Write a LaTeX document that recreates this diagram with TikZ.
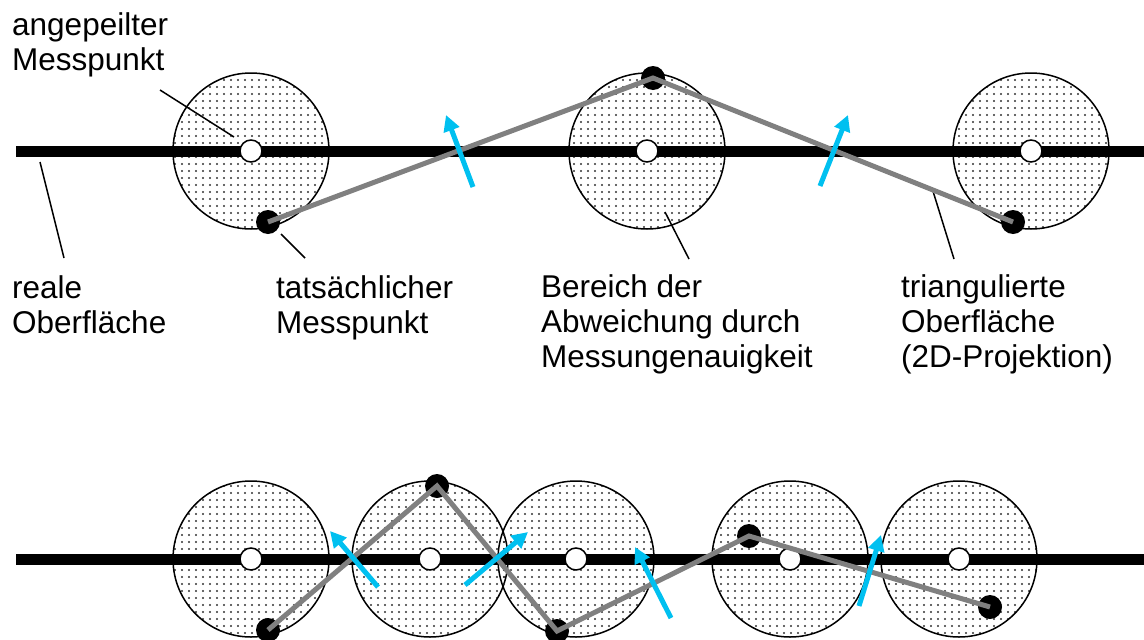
\documentclass[tikz,border=0pt]{standalone}
\usepackage{fontspec}
\setmainfont{Liberation Sans}
\usetikzlibrary{arrows.meta,patterns}

% fine dot raster for the deviation zones
\pgfdeclarepatternformonly{messdots}{\pgfqpoint{-1.5pt}{-1.5pt}}{\pgfqpoint{1.5pt}{1.5pt}}{\pgfqpoint{7pt}{7pt}}{%
  \pgfpathcircle{\pgfqpoint{0pt}{0pt}}{1.05pt}\pgfusepath{fill}}

\definecolor{normalblue}{RGB}{0,192,240}

\tikzset{
  surface/.style={line width=11pt},
  zone/.style={circle,draw,line width=1.5pt,minimum size=156pt,inner sep=0pt,
    pattern=messdots,pattern color=black!80},
  aim/.style={circle,draw,line width=1.5pt,fill=white,minimum size=22pt,inner sep=0pt},
  hit/.style={circle,fill=black,minimum size=24pt,inner sep=0pt},
  tri/.style={line width=5pt,draw=black!50},
  normalvec/.style={line width=5pt,draw=normalblue,-{Triangle[length=16pt,width=16pt]}},
  pointer/.style={line width=1.5pt},
  % anchored at the baseline of the last line
  caption/.style={anchor=base west,align=left,inner sep=0pt,
    font=\fontsize{31.5pt}{35pt}\selectfont}
}

\begin{document}
\begin{tikzpicture}[x=1pt,y=-1pt]
  \useasboundingbox (0,0) rectangle (1144,640);

  % --- upper row: sparse measurement ---
  \node[zone] (z1) at (251,151) {};
  \node[zone] (z2) at (647,151) {};
  \node[zone] (z3) at (1031,151) {};

  \coordinate (s1) at (16,151);
  \coordinate (s2) at (1144,151);
  \draw[surface] (s1) -- (s2);

  \node[aim] (a1) at (251,151) {};
  \node[aim] (a2) at (647,151) {};
  \node[aim] (a3) at (1031,151) {};

  % leader lines
  \coordinate (p1a) at (160,90);  \coordinate (p1b) at (234,137);
  \coordinate (p2a) at (40,162);  \coordinate (p2b) at (64,258);
  \coordinate (p3a) at (281,234); \coordinate (p3b) at (305,258);
  \coordinate (p4a) at (665,212); \coordinate (p4b) at (689,259);
  \coordinate (p5a) at (932,188); \coordinate (p5b) at (954,259);
  \draw[pointer] (p1a) -- (p1b);
  \draw[pointer] (p2a) -- (p2b);
  \draw[pointer] (p3a) -- (p3b);
  \draw[pointer] (p4a) -- (p4b);
  \draw[pointer] (p5a) -- (p5b);

  \node[hit] (t1) at (268,222) {};
  \node[hit] (t2) at (653,78) {};
  \node[hit] (t3) at (1013,222) {};
  \draw[tri] (t1.center) -- (t2.center) -- (t3.center);

  % face normals
  \coordinate (n1a) at (473,187); \coordinate (n1b) at (446,115);
  \coordinate (n2a) at (820,186); \coordinate (n2b) at (848,115);
  \draw[normalvec] (n1a) -- (n1b);
  \draw[normalvec] (n2a) -- (n2b);

  \node[caption] (l1) at (12,70) {angepeilter\\Messpunkt};
  \node[caption] (l2) at (12,333) {reale\\Oberfläche};
  \node[caption] (l3) at (276,333) {tatsächlicher\\Messpunkt};
  \node[caption] (l4) at (541,367) {Bereich der\\Abweichung durch\\Messungenauigkeit};
  \node[caption] (l5) at (901,367) {triangulierte\\Oberfläche\\(2D-Projektion)};

  % --- lower row: dense measurement ---
  \node[zone] (y1) at (251,559) {};
  \node[zone] (y2) at (430,559) {};
  \node[zone] (y3) at (576,559) {};
  \node[zone] (y4) at (790,559) {};
  \node[zone] (y5) at (959,559) {};

  \coordinate (r1) at (16,559);
  \coordinate (r2) at (1144,559);
  \draw[surface] (r1) -- (r2);

  \node[aim] (b1) at (251,559) {};
  \node[aim] (b2) at (430,559) {};
  \node[aim] (b3) at (576,559) {};
  \node[aim] (b4) at (790,559) {};
  \node[aim] (b5) at (959,559) {};

  \node[hit] (u1) at (268,630) {};
  \node[hit] (u2) at (437,486) {};
  \node[hit] (u3) at (557,631) {};
  \node[hit] (u4) at (749,536) {};
  \node[hit] (u5) at (990,607) {};
  \draw[tri] (u1.center) -- (u2.center) -- (u3.center) -- (u4.center) -- (u5.center);

  \coordinate (m1a) at (378,587); \coordinate (m1b) at (330,531);
  \coordinate (m2a) at (465,585); \coordinate (m2b) at (528,532);
  \coordinate (m3a) at (671,618); \coordinate (m3b) at (635,547);
  \coordinate (m4a) at (859,606); \coordinate (m4b) at (881,535);
  \draw[normalvec] (m1a) -- (m1b);
  \draw[normalvec] (m2a) -- (m2b);
  \draw[normalvec] (m3a) -- (m3b);
  \draw[normalvec] (m4a) -- (m4b);
\end{tikzpicture}
\end{document}
